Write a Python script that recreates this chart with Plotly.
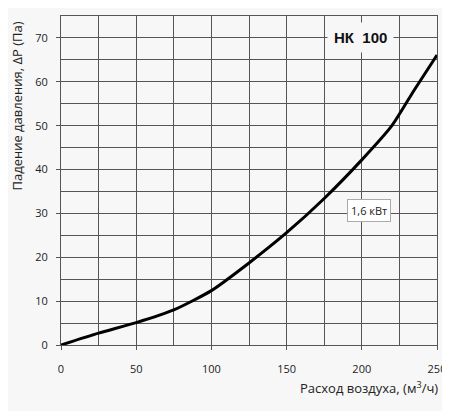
import plotly.graph_objects as go

# расход воздуха (м3/ч) и падение давления (Па) для НК 100
debit = [0, 25, 50, 75, 100, 125, 150, 175, 200, 220, 235, 250]
pression = [0, 2.7, 5.1, 8.0, 12.4, 18.7, 25.6, 33.4, 42.2, 50.0, 58.2, 66.1]

x_ticks = [0, 50, 100, 150, 200, 250]
y_ticks = [0, 10, 20, 30, 40, 50, 60, 70]

FOND = "#f7f7f7"
GRILLE = "#555555"

fig = go.Figure()
fig.add_trace(go.Scatter(
  x=debit, y=pression, mode="lines",
  line=dict(color="black", width=3, shape="spline", smoothing=0.6),
  showlegend=False, hoverinfo="skip"))

# titre de la courbe et puissance
fig.add_annotation(x=199, y=70, text="<b>НК  100</b>", showarrow=False,
                   font=dict(family="Liberation Sans", size=15, color="#111"),
                   bgcolor=FOND, borderpad=6)
fig.add_annotation(x=205, y=30.7, text="1,6 кВт", showarrow=False,
                   font=dict(family="Open Sans", size=11, color="#222"),
                   bgcolor="white", bordercolor="#aaaaaa", borderwidth=1, borderpad=3)

axe = dict(showgrid=True, gridcolor=GRILLE, gridwidth=1,
           showline=True, linecolor=GRILLE, linewidth=1, mirror=True,
           ticks="outside", ticklen=4, tickcolor=GRILLE, automargin=False,
           zeroline=False, tickfont=dict(family="Open Sans", size=11, color="#222"))

# la page ajoute 8px de marge au corps, on compense ici
fig.update_layout(
  width=450, height=411,
  paper_bgcolor=FOND, plot_bgcolor=FOND,
  margin=dict(l=53, r=21, t=8, b=74),
  xaxis=dict(axe, range=[0, 250], tickvals=x_ticks, ticklabelstandoff=10,
             minor=dict(dtick=25, tick0=0, showgrid=True, gridcolor=GRILLE, gridwidth=1)),
  yaxis=dict(axe, range=[0, 75], tickvals=y_ticks, ticklabelstandoff=6,
             minor=dict(dtick=5, tick0=0, showgrid=True, gridcolor=GRILLE, gridwidth=1)),
)

# titres des axes
fig.add_annotation(xref="paper", yref="paper", x=-0.116, y=0.726, xanchor="center", yanchor="middle",
                   textangle=-90, text="Падение давления, ΔP (Па)", showarrow=False,
                   font=dict(family="Open Sans", size=13, color="#222"))
fig.add_annotation(xref="paper", yref="paper", x=1.009, y=-0.13, xanchor="right", yanchor="middle",
                   text="Расход воздуха, (м<sup>3</sup>/ч)", showarrow=False,
                   font=dict(family="Open Sans", size=13, color="#222"))

fig.write_html("out.html")
